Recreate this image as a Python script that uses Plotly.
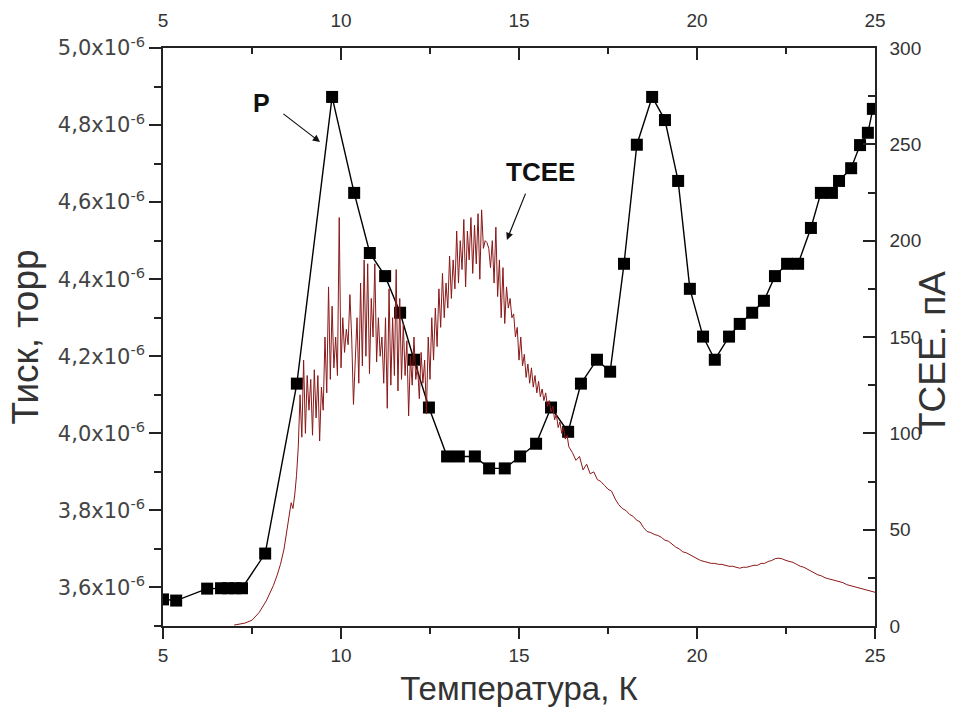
import numpy as np
import plotly.graph_objects as go

# ---- Pressure P (torr, in units of 1e-6) vs temperature (K) ----
p_temp = [5.0, 5.37, 6.24, 6.63, 6.83, 7.03, 7.22, 7.87, 8.76, 9.75,
          10.37, 10.81, 11.24, 11.66, 12.05, 12.47, 12.98, 13.31, 13.76, 14.16,
          14.6, 15.03, 15.48, 15.9, 16.38, 16.74, 17.19, 17.56, 17.95, 18.31,
          18.74, 19.1, 19.47, 19.8, 20.17, 20.5, 20.9, 21.2, 21.55, 21.88,
          22.19, 22.53, 22.84, 23.2, 23.48, 23.79, 23.99, 24.33, 24.58, 24.8,
          24.94]
p_value_e6 = [3.569, 3.566, 3.597, 3.598, 3.598, 3.598, 3.598, 3.688, 4.129, 4.873,
              4.624, 4.468, 4.408, 4.313, 4.191, 4.067, 3.94, 3.94, 3.94, 3.909,
              3.909, 3.94, 3.973, 4.067, 4.004, 4.129, 4.191, 4.16, 4.44, 4.749,
              4.873, 4.813, 4.655, 4.375, 4.251, 4.191, 4.251, 4.284, 4.313, 4.344,
              4.408, 4.44, 4.44, 4.533, 4.624, 4.624, 4.655, 4.688, 4.748, 4.78,
              4.842]

# ---- TCEE current (pA) vs temperature (K) ----
# onset of emission
tcee_rise_temp = [7.0, 7.3, 7.5, 7.7, 7.9, 8.0, 8.1, 8.2, 8.3, 8.4,
                  8.5, 8.55, 8.6, 8.65, 8.7, 8.75]
tcee_rise_val = [0.5, 1.5, 3, 7, 13, 17, 21, 26, 32, 40,
                 52, 58, 64, 61, 68, 78]

# noisy part, recorded every 0.05 K from 8.80 K to 16.40 K
tcee_noisy_start, tcee_noisy_end = 8.80, 16.40
tcee_noisy_val = [
    93, 120, 98, 138, 100, 130, 112, 128, 99, 133,
    108, 130, 96, 124, 112, 150, 121, 176, 128, 166,
    134, 150, 130, 212, 134, 160, 142, 154, 146, 172,
    150, 115, 140, 160, 126, 178, 135, 190, 140, 188,
    131, 170, 150, 188, 137, 160, 140, 150, 126, 160,
    113, 175, 125, 160, 130, 185, 122, 170, 128, 157,
    130, 148, 109, 140, 125, 150, 128, 135, 118, 142,
    126, 138, 110, 150, 128, 160, 138, 165, 145, 175,
    155, 183, 160, 178, 165, 192, 170, 190, 175, 205,
    178, 200, 185, 211, 176, 205, 190, 212, 183, 208,
    188, 214, 180, 216, 196, 200, 199, 196, 186, 200,
    178, 207, 171, 190, 160, 186, 157, 176, 165, 170,
    160, 162, 150, 155, 138, 150, 135, 141, 129, 136,
    126, 134, 124, 130, 121, 127, 119, 123, 117, 121,
    114, 117, 111, 114, 107, 110, 103, 106, 100, 103,
    97, 99, 93]

# smooth tail, recorded every 0.1 K from 16.5 K to 25.0 K
tcee_tail_start, tcee_tail_end = 16.5, 25.0
tcee_tail_val = [
    90, 86, 88, 81, 84, 79, 80, 76, 75, 73,
    71, 70, 66, 63, 61, 60, 58, 57, 55, 54,
    51, 49, 48.5, 47.5, 47, 46, 44.5, 44, 42.5, 41,
    40, 38.5, 38, 37, 36, 35, 34, 33.5, 33, 32.5,
    32.5, 32, 32, 31.5, 31, 31, 30.5, 30, 30.5, 30.5,
    31, 31.5, 31.5, 32.5, 32.5, 33.5, 34, 35, 35.2, 34.8,
    34, 33.5, 33, 32, 31, 30.5, 29.5, 28.5, 27.5, 26.5,
    26, 25, 24.5, 24, 23.5, 23, 22.5, 21.5, 21, 20.5,
    20, 19.5, 19, 18.5, 18, 17.5]

x_ticks = [5, 10, 15, 20, 25]
p_ticks_e6 = [3.6, 3.8, 4.0, 4.2, 4.4, 4.6, 4.8, 5.0]
p_tick_text = [f"{v:.1f}".replace(".", ",") + "x10<sup>-6</sup>" for v in p_ticks_e6]

tcee_temp = np.concatenate([
    tcee_rise_temp,
    np.linspace(tcee_noisy_start, tcee_noisy_end, len(tcee_noisy_val)),
    np.linspace(tcee_tail_start, tcee_tail_end, len(tcee_tail_val)),
])
tcee_val = np.concatenate([tcee_rise_val, tcee_noisy_val, tcee_tail_val])
p_value = np.array(p_value_e6) * 1e-6

AX = "#222222"
TXT = "#333333"
SANS = "Liberation Sans, Arial, sans-serif"
WIDE = "DejaVu Sans, Verdana, sans-serif"

fig = go.Figure()
fig.add_trace(go.Scatter(
    x=p_temp, y=p_value, mode="lines+markers",
    line=dict(color="black", width=1.4),
    marker=dict(symbol="square", size=12, color="black"),
    xaxis="x", yaxis="y", name="P",
))
fig.add_trace(go.Scatter(
    x=tcee_temp, y=tcee_val, mode="lines",
    line=dict(color="#8a1818", width=1),
    xaxis="x2", yaxis="y2", name="TCEE",
))

common_x = dict(range=[5, 25], tickvals=x_ticks, showgrid=False, zeroline=False,
                showline=True, linecolor=AX, linewidth=1.5, tickcolor=AX, tickwidth=1.5,
                automargin=False,
                tickfont=dict(family=SANS, size=19, color=TXT))

fig.update_layout(
    width=955, height=718,
    margin=dict(l=163, r=80, t=48, b=92),
    paper_bgcolor="white", plot_bgcolor="white",
    showlegend=False,
    xaxis=dict(**common_x, ticks="outside", ticklen=11,
               minor=dict(ticks="outside", dtick=2.5, tick0=5, ticklen=6,
                          tickwidth=1.5, tickcolor=AX),
               title=dict(text="Температура, К", standoff=12,
                          font=dict(family=SANS, size=33, color=TXT))),
    xaxis2=dict(**common_x, overlaying="x", side="top", anchor="y2", ticks="inside",
                ticklen=12, ticklabelstandoff=12,
                minor=dict(ticks="inside", dtick=2.5, tick0=5, ticklen=6,
                           tickwidth=1.5, tickcolor=AX)),
    yaxis=dict(range=[3.5e-6, 5.0e-6], tickvals=[v * 1e-6 for v in p_ticks_e6],
               ticktext=p_tick_text, ticks="outside", ticklen=12, tickwidth=1.5,
               tickcolor=AX, showline=True, linecolor=AX, linewidth=1.5,
               showgrid=False, zeroline=False, automargin=False,
               minor=dict(ticks="outside", dtick=0.1e-6, tick0=3.5e-6, ticklen=7,
                          tickwidth=1.5, tickcolor=AX),
               tickfont=dict(family=WIDE, size=21, color="#444444"),
               title=dict(text="Тиск, торр", standoff=8,
                          font=dict(family=SANS, size=37, color=TXT))),
    yaxis2=dict(range=[0, 300], dtick=50, tick0=0, overlaying="y", side="right",
                anchor="x", ticks="inside", ticklen=12, tickwidth=1.5, tickcolor=AX,
                showline=True, linecolor=AX, linewidth=1.5, showgrid=False,
                zeroline=False, ticklabelstandoff=9, automargin=False,
                minor=dict(ticks="inside", dtick=25, tick0=0, ticklen=7,
                           tickwidth=1.5, tickcolor=AX),
                tickfont=dict(family=SANS, size=19, color=TXT)),
)

# right axis title, set close to the page edge
fig.add_annotation(xref="paper", yref="paper", x=1, y=0.5, xshift=57, yshift=-16,
                   text="TCEE. пА", textangle=-90, showarrow=False,
                   xanchor="center", yanchor="middle",
                   font=dict(family=SANS, size=37, color=TXT))

# series labels with arrows
fig.add_annotation(x=9.41, y=4.756e-6, ax=8.34, ay=4.832e-6, axref="x", ayref="y",
                   xref="x", yref="y", text="", showarrow=True, arrowhead=2,
                   arrowsize=1.2, arrowwidth=1.2, arrowcolor="#111")
fig.add_annotation(x=7.78, y=4.857e-6, xref="x", yref="y", text="<b>P</b>",
                   showarrow=False, font=dict(family=SANS, size=25, color="#111"))
fig.add_annotation(x=14.66, y=4.502e-6, ax=15.2, ay=4.626e-6, axref="x", ayref="y",
                   xref="x", yref="y", text="", showarrow=True, arrowhead=2,
                   arrowsize=1.2, arrowwidth=1.2, arrowcolor="#111")
fig.add_annotation(x=15.59, y=4.678e-6, xref="x", yref="y", text="<b>TCEE</b>",
                   showarrow=False, font=dict(family=SANS, size=26, color="#111"))

fig.write_html("out.html")
